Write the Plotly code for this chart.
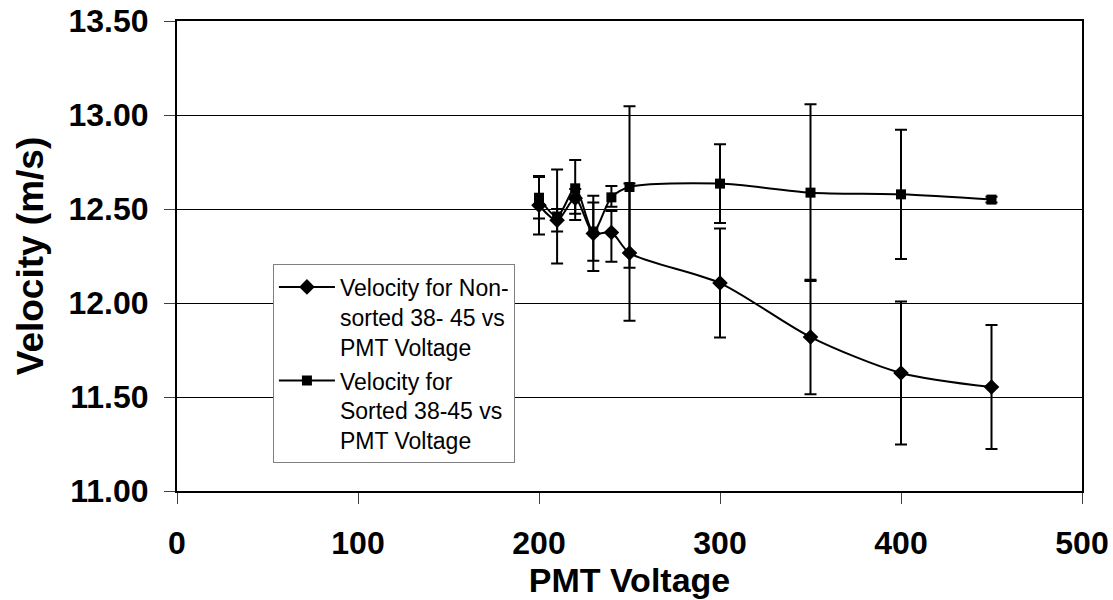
import plotly.graph_objects as go

pmt_voltage = [200, 210, 220, 230, 240, 250, 300, 350, 400, 450]

nonsorted_velocity = [12.52, 12.44, 12.557, 12.37, 12.375, 12.266, 12.106, 11.819, 11.628, 11.553]
nonsorted_err_plus = [0.155, 0.06, 0.05, 0.20, 0.115, 0.37, 0.29, 0.305, 0.38, 0.33]
nonsorted_err_minus = [0.155, 0.06, 0.115, 0.20, 0.155, 0.36, 0.29, 0.305, 0.38, 0.33]

sorted_velocity = [12.56, 12.46, 12.61, 12.38, 12.562, 12.617, 12.635, 12.587, 12.578, 12.55]
sorted_err_plus = [0.11, 0.25, 0.15, 0.155, 0.06, 0.43, 0.21, 0.47, 0.344, 0.015]
sorted_err_minus = [0.11, 0.25, 0.135, 0.155, 0.05, 0.43, 0.21, 0.47, 0.344, 0.015]

y_ticks = [11.0, 11.5, 12.0, 12.5, 13.0, 13.5]
x_ticks = [0, 100, 200, 300, 400, 500]

series_names = [
    "Velocity for Non-<br>sorted 38- 45 vs<br>PMT Voltage",
    "Velocity for<br>Sorted 38-45 vs<br>PMT Voltage",
]

FONT = "Arial, 'Liberation Sans', sans-serif"

fig = go.Figure()

fig.add_trace(go.Scatter(
    x=pmt_voltage, y=nonsorted_velocity, name=series_names[0],
    mode="lines+markers", legendgroup="a",
    line=dict(color="black", width=2, shape="spline", smoothing=0.8),
    marker=dict(symbol="diamond", size=12, color="black"),
    error_y=dict(type="data", symmetric=False, array=nonsorted_err_plus,
                 arrayminus=nonsorted_err_minus, color="black", thickness=2, width=6),
))
fig.add_trace(go.Scatter(
    x=pmt_voltage, y=sorted_velocity, name=series_names[1],
    mode="lines+markers", legendgroup="b",
    line=dict(color="black", width=2, shape="spline", smoothing=0.8),
    marker=dict(symbol="square", size=10, color="black"),
    error_y=dict(type="data", symmetric=False, array=sorted_err_plus,
                 arrayminus=sorted_err_minus, color="black", thickness=2, width=6),
))

fig.update_layout(
    width=1113, height=600,
    margin=dict(l=177, r=31, t=21, b=109, autoexpand=False),
    paper_bgcolor="white", plot_bgcolor="white",
    font=dict(family=FONT, color="black"),
    showlegend=True,
    legend=dict(
        x=0.106, y=0.482, xanchor="left", yanchor="top",
        bgcolor="white", bordercolor="#808080", borderwidth=1,
        font=dict(size=23, family=FONT, color="black"),
        tracegroupgap=1, traceorder="grouped",
        itemwidth=56, valign="top",
    ),
    xaxis=dict(
        range=[0, 500], tickvals=x_ticks, ticktext=[str(v) for v in x_ticks],
        showgrid=False, zeroline=False,
        showline=True, linecolor="black", linewidth=2, mirror=True,
        ticks="outside", ticklen=11, tickcolor="#404040", tickwidth=1,
        tickfont=dict(size=32, family=FONT, color="black", weight="bold"),
        ticklabelstandoff=12,
        title=dict(text="<b>PMT Voltage</b>", font=dict(size=34, family=FONT, color="black"),
                   standoff=6),
        automargin=False,
    ),
    yaxis=dict(
        range=[11.0, 13.5], tickvals=y_ticks, ticktext=[f"{v:.2f}" for v in y_ticks],
        showgrid=True, gridcolor="black", gridwidth=1, zeroline=False,
        showline=True, linecolor="black", linewidth=2, mirror=True,
        ticks="outside", ticklen=11, tickcolor="#404040", tickwidth=1,
        tickfont=dict(size=32, family=FONT, color="black", weight="bold"),
        ticklabelstandoff=9,
        title=dict(text="<b>Velocity (m/s)</b>", font=dict(size=37, family=FONT, color="black"),
                   standoff=14),
        automargin=False,
    ),
)

fig.write_html("out.html")
